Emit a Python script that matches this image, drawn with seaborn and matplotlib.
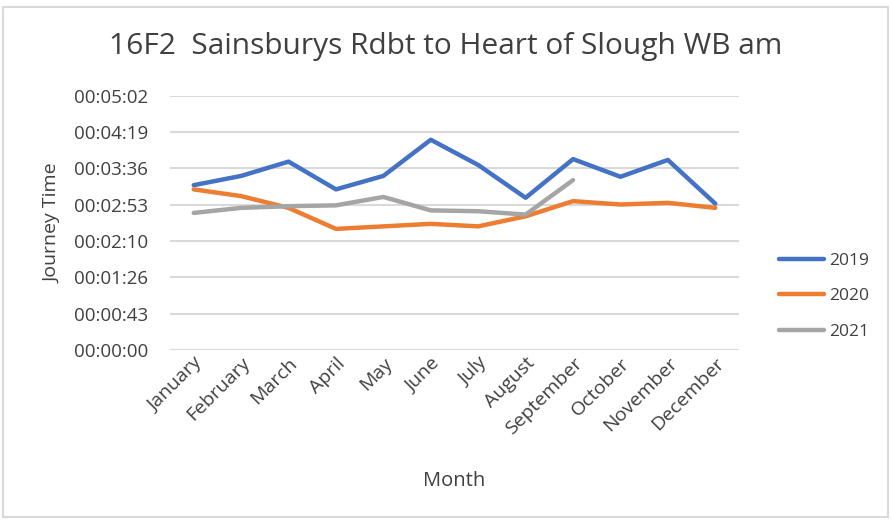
import numpy as np
import pandas as pd
import matplotlib
matplotlib.use("Agg")
import matplotlib.pyplot as plt
import seaborn as sns
from matplotlib.ticker import FuncFormatter, FixedLocator
from matplotlib.patches import Rectangle

# data (journey time in seconds)
months = ['January', 'February', 'March', 'April', 'May', 'June', 'July',
          'August', 'September', 'October', 'November', 'December']
t_2019 = [196, 207, 224, 191, 207, 250, 220, 181, 227, 206, 226, 174]
t_2020 = [191, 183, 169, 144, 147, 150, 147, 159, 177, 173, 175, 169]
t_2021 = [163, 169, 171, 172, 182, 166, 165, 161, 202]
years = ['2019', '2020', '2021']
y_ticks = [0, 43.2, 86.4, 129.6, 172.8, 216.0, 259.2, 302.4]

rows = []
for yr, vals in zip(years, [t_2019, t_2020, t_2021]):
    for m, v in zip(months, vals):
        rows.append({'Month': m, 'Year': yr, 'Seconds': v})
df = pd.DataFrame(rows)

sns.set_theme(style="white")
plt.rcParams['font.family'] = ['Open Sans', 'DejaVu Sans']

fig = plt.figure(figsize=(8.91, 5.20), dpi=100)
fig.patches.append(Rectangle((0.003, 0.005), 0.994, 0.982, transform=fig.transFigure,
                             fill=False, edgecolor='#D9D9D9', linewidth=1.5))
ax = fig.add_axes([0.1908, 0.3269, 0.6386, 0.4891])

palette = {'2019': '#4472C4', '2020': '#ED7D31', '2021': '#A5A5A5'}
sns.lineplot(data=df, x='Month', y='Seconds', hue='Year', palette=palette,
             linewidth=3.2, ax=ax, sort=False)

ax.set_xlim(-0.5, 11.5)
ax.set_ylim(0, 302.4)
ax.yaxis.set_major_locator(FixedLocator(y_ticks))


def fmt_time(v, pos):
    s = int(round(v))
    return f"{s // 3600:02d}:{(s % 3600) // 60:02d}:{s % 60:02d}"


ax.yaxis.set_major_formatter(FuncFormatter(fmt_time))
ax.grid(axis='y', color='#D9D9D9', linewidth=1.5)
ax.set_axisbelow(True)
for sp in ax.spines.values():
    sp.set_visible(False)
ax.tick_params(axis='y', length=0, pad=16, labelsize=13.5, labelcolor='#404040')
ax.tick_params(axis='x', length=0, pad=3, labelsize=14, labelcolor='#404040')
plt.setp(ax.get_xticklabels(), rotation=45, ha='right', rotation_mode='anchor')

ax.set_xlabel('Month', fontsize=14.5, color='#404040', labelpad=24)
ax.set_ylabel('Journey Time', fontsize=14, color='#404040', labelpad=9)
ax.set_title('16F2  Sainsburys Rdbt to Heart of Slough WB am', fontsize=21.5,
             color='#404040', pad=30, x=0.485)

handles, labels = ax.get_legend_handles_labels()
ax.legend(handles, labels, loc='center left', bbox_to_anchor=(0.857, 0.43),
          bbox_transform=fig.transFigure, frameon=False, fontsize=12.5,
          handlelength=2.6, handletextpad=0.3, labelspacing=1.1,
          labelcolor='#404040', title=None)

fig.savefig('out.png', dpi=100)
